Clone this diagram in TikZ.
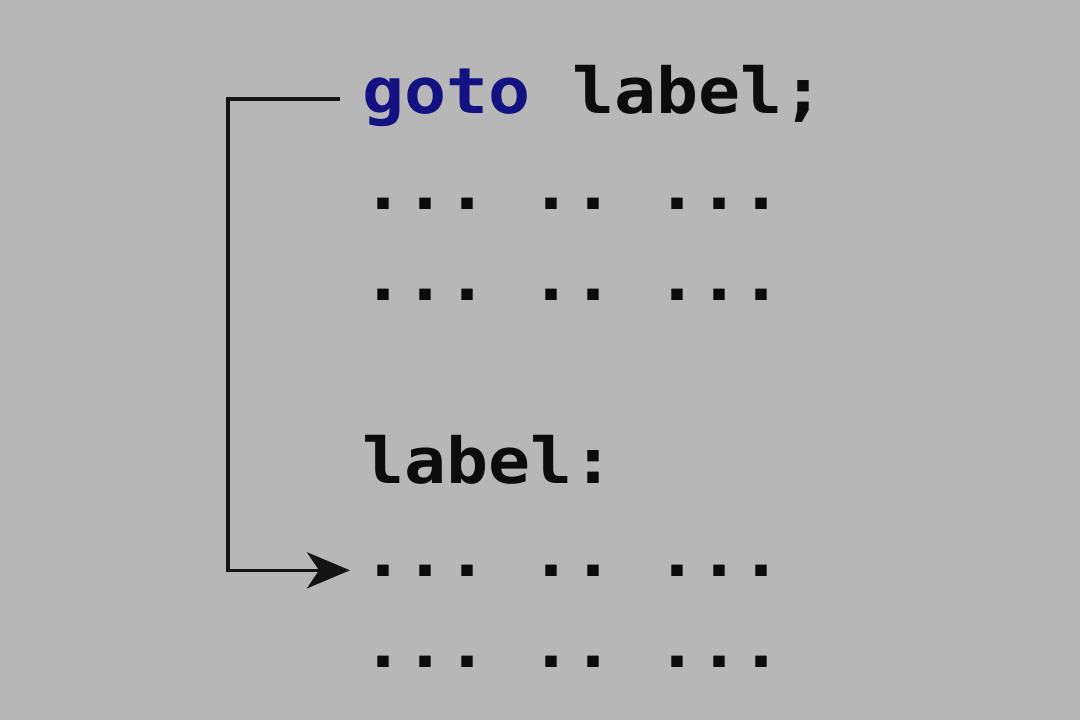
\documentclass[tikz,border=0pt]{standalone}
\usepackage{fontspec}
\usetikzlibrary{arrows.meta}
\newfontfamily\codefont[FakeStretch=1.1]{DejaVu Sans Mono}
\definecolor{bggray}{RGB}{183,183,183}
\definecolor{kwblue}{RGB}{18,18,130}
\definecolor{inkblack}{RGB}{12,12,12}
\definecolor{linegray}{RGB}{20,20,20}
\begin{document}
\begin{tikzpicture}[x=1pt,y=-1pt,
  codeline/.style={anchor=base west,inner sep=0pt,outer sep=0pt,text=inkblack,
    font=\codefont\bfseries\fontsize{63.5}{70}\selectfont\frenchspacing},
  jumpline/.style={draw=linegray,line width=3.5pt,
    -{Stealth[length=43pt,width=36pt,inset=12pt]}}]
\fill[bggray] (0,0) rectangle (1080,720);
\useasboundingbox (0,0) rectangle (1080,720);
\node[codeline] (goto) at (362,113) {\textcolor{kwblue}{goto} label;};
\node[codeline] (r1) at (362,209) {... .. ...};
\node[codeline] (r2) at (362,300) {... .. ...};
\node[codeline] (lbl) at (362,483) {label:};
\node[codeline] (r4) at (362,576) {... .. ...};
\node[codeline] (r5) at (362,667) {... .. ...};
\coordinate (jumpstart) at (340,99);
\draw[jumpline] (jumpstart) -- (228,99) |- ([xshift=-12pt]r4.west);
\end{tikzpicture}
\end{document}
